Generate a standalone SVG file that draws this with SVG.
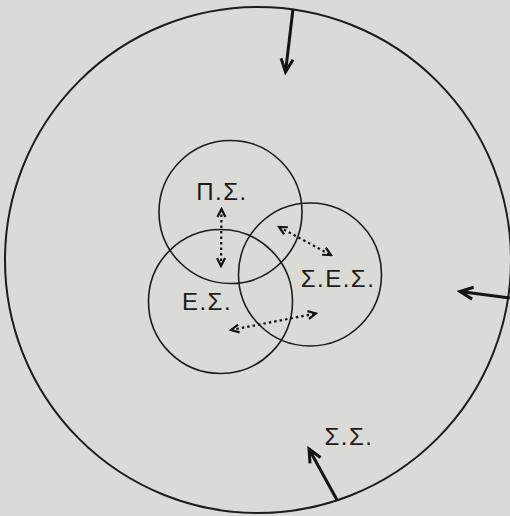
<svg xmlns="http://www.w3.org/2000/svg" width="510" height="516" viewBox="0 0 510 516">
<style>
.ring{fill:none;stroke:#1c1c1c;stroke-width:1.6}
.big{fill:none;stroke:#1c1c1c;stroke-width:2}
.lbl{font-family:"Liberation Sans","DejaVu Sans",sans-serif;font-size:24px;fill:#1c1c1c;text-anchor:middle;letter-spacing:1.5px}
.solid{stroke:#141414;stroke-width:3;fill:none}
.dot{stroke:#141414;stroke-width:2.2;fill:none;stroke-dasharray:2.5 3}
</style>
<defs>
<marker id="hs" markerUnits="userSpaceOnUse" viewBox="-15 -9 18 18" markerWidth="18" markerHeight="18" refX="0" refY="0" orient="auto">
<path d="M-13,-6 L0,0 L-13,6" fill="none" stroke="#141414" stroke-width="3"/>
</marker>
<marker id="hd" markerUnits="userSpaceOnUse" viewBox="-10 -6 12 12" markerWidth="12" markerHeight="12" refX="0" refY="0" orient="auto-start-reverse">
<path d="M-8,-4 L0,0 L-8,4" fill="none" stroke="#141414" stroke-width="2.2"/>
</marker>
</defs>
<rect width="510" height="516" fill="#dadad7"/>
<g id="node-SS">
<circle class="big" cx="258" cy="260" r="253"/>
<text class="lbl" x="349" y="445">Σ.Σ.</text>
</g>
<g id="node-PS">
<circle class="ring" cx="230.5" cy="212" r="71.5"/>
<text class="lbl" x="222" y="200">Π.Σ.</text>
</g>
<g id="node-ES">
<circle class="ring" cx="220.5" cy="301.5" r="72"/>
<text class="lbl" x="207" y="310">Ε.Σ.</text>
</g>
<g id="node-SES">
<circle class="ring" cx="310" cy="274.5" r="71.5"/>
<text class="lbl" x="338" y="287">Σ.Ε.Σ.</text>
</g>
<g id="connectors">
<line class="solid" x1="293" y1="9" x2="285.5" y2="72" marker-end="url(#hs)"/>
<line class="solid" x1="510" y1="298" x2="460" y2="291.5" marker-end="url(#hs)"/>
<line class="solid" x1="337" y1="500" x2="309" y2="449" marker-end="url(#hs)"/>
<line class="dot" x1="221.5" y1="209" x2="221" y2="266" marker-start="url(#hd)" marker-end="url(#hd)"/>
<line class="dot" x1="279" y1="227" x2="331" y2="255" marker-start="url(#hd)" marker-end="url(#hd)"/>
<line class="dot" x1="231" y1="330" x2="316" y2="313.5" marker-start="url(#hd)" marker-end="url(#hd)"/>
</g>
</svg>
